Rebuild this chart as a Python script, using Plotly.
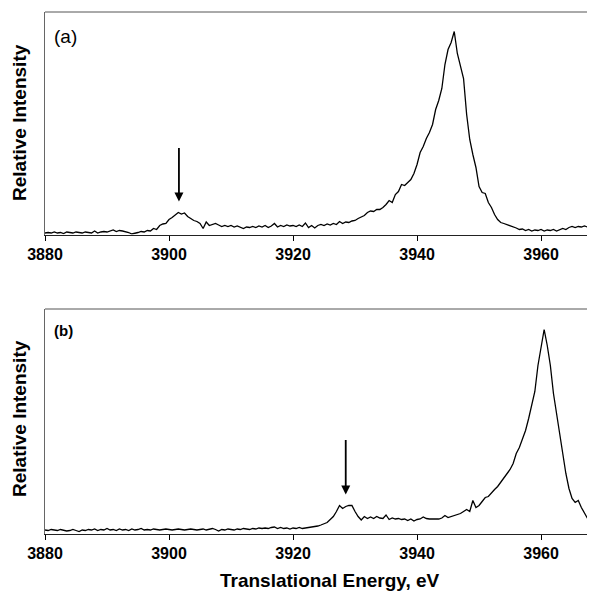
import numpy as np
import plotly.graph_objects as go

# Energy grid (eV): both spectra sampled every 0.5 eV starting at 3880
E_START = 3880.0
E_STEP = 0.5

# Panel (a) relative intensity (arbitrary units)
intensity_a = [
    1.5, 2, 1.5, 2.5, 1.5, 2, 1, 2.5, 2, 1.5,
    2.5, 2, 1.5, 2.5, 2, 1.5, 3.5, 1.5, 2.5, 3,
    2.5, 3.5, 4.5, 3, 4, 3.5, 3, 2, 0.5, 1,
    2, 3, 2.5, 4, 3.5, 6, 5, 9, 10.5, 11,
    15, 17, 20, 22, 20.5, 21.5, 18, 16, 14, 13,
    11, 6, 12.5, 9, 10, 11, 9.5, 8, 9, 8,
    9, 7.5, 8.5, 7, 6, 7.5, 7, 8, 7, 8.5,
    7.5, 9, 7, 8.5, 11, 7.5, 9, 8, 9.5, 8.5,
    9, 8, 9.5, 8, 11.5, 7, 9, 6.5, 9, 10,
    9, 10.5, 9.5, 11, 10, 13, 11, 12.5,
    12, 13.5, 14, 16, 17.5, 19, 22, 23.5, 23, 25,
    25, 27, 30, 34, 32, 40, 43, 50, 49, 52,
    55, 61, 70, 82, 88, 96, 102, 110, 125, 134,
    146, 170, 185, 192, 203, 181, 168, 156, 120, 95,
    80, 67, 48, 42, 41, 32, 27, 20, 15, 12,
    11, 10, 9, 7.5, 6.5, 5, 5.5, 4, 5, 3.5,
    4.5, 4, 5, 3.5, 4.5, 4, 5, 3.5, 5, 6,
    5, 7, 8, 7, 8, 7.5, 8.5, 7.5, 8, 7.5,
]

# Panel (b) relative intensity (arbitrary units)
intensity_b = [
    3.5, 3.0, 4.0, 3.5, 3.0, 4.0, 3.5, 2.5, 3.0, 4.0,
    3.0, 2.0, 3.5, 3.0, 4.0, 3.5, 4.5, 3.0, 4.0, 3.5,
    5.0, 3.5, 4.0, 3.0, 4.5, 3.5, 4.0, 3.0, 4.5, 3.5,
    4.0, 5.0, 3.5, 4.0, 3.5, 4.5, 4.0, 3.5, 4.0, 4.5,
    4.0, 3.5, 4.0, 4.5, 4.0, 3.5, 4.0, 4.5, 4.0, 3.5,
    4.0, 4.5, 3.5, 4.0, 5.0, 4.0, 2.5, 4.0, 3.5, 4.5,
    4.0, 3.5, 4.5, 4.0, 5.0, 4.5, 4.0, 5.0, 4.5, 5.5,
    5.0, 5.5, 5.0, 6.0, 6.5, 5.0, 6.0, 5.0, 5.5, 4.5,
    5.5, 5.0, 6.0, 5.0, 5.5,
    5.5, 6, 6.5, 7.5, 8.5, 9.5, 11, 14, 17, 22,
    28, 25, 27, 28, 28, 22, 17, 13.5, 17, 15,
    16.5, 15, 17, 15.5, 15, 18.5, 14, 15.5, 14.5, 15,
    14, 14.5, 13, 14.5, 12.5, 14, 14.5, 16.5, 15, 14.5,
    14.5, 15, 14.5, 15.5, 18, 16, 17, 17.5, 19, 20,
    22, 24, 22, 33, 26, 28, 32, 36, 37, 41,
    44, 47, 51, 55, 59, 64, 70, 80, 86, 95,
    103, 115, 128, 142, 168, 188, 204, 188, 168, 140,
    118, 100, 80, 60, 45, 35, 31, 33, 26, 20,
    15, 12, 10,
]

tick_values = [3880, 3900, 3920, 3940, 3960]
tick_labels = ["3880", "3900", "3920", "3940", "3960"]
x_range = [3880, 3968.7]

# arrow markers (energy, tail height, tip height)
arrow_a = (3901.6, 88, 33)
arrow_b = (3928.5, 95, 39)

energy_a = E_START + E_STEP * np.arange(len(intensity_a))
energy_b = E_START + E_STEP * np.arange(len(intensity_b))

# the page body has an 8px margin; lay out in window pixels and shift
OFF = 8
W, H = 595 - OFF, 591 - OFF
ML = 45 - OFF
def py(px):
    return 1 - (px - OFF) / H
def px_x(px):
    return (px - OFF - ML) / (W - ML)

dom_a = [py(234.5), py(12)]
dom_b = [py(533.5), py(309)]

FONT = "Liberation Sans, Arial, Helvetica, sans-serif"

fig = go.Figure()
fig.add_trace(go.Scatter(x=energy_a, y=intensity_a, mode="lines",
                         line=dict(color="black", width=1.3), xaxis="x", yaxis="y",
                         showlegend=False, hoverinfo="skip"))
fig.add_trace(go.Scatter(x=energy_b, y=intensity_b, mode="lines",
                         line=dict(color="black", width=1.3), xaxis="x2", yaxis="y2",
                         showlegend=False, hoverinfo="skip"))

xax = dict(range=x_range, tickmode="array", tickvals=tick_values, ticktext=tick_labels,
           ticks="outside", ticklen=5, tickwidth=1, tickcolor="black",
           showline=True, linecolor="#222", linewidth=1.3,
           showgrid=False, zeroline=False,
           tickfont=dict(family=FONT, size=16, color="black", weight="bold"))
yax = dict(showticklabels=False, ticks="", showline=True, linecolor="#666", linewidth=1,
           showgrid=False, zeroline=False)

fig.update_layout(
    width=W, height=H,
    margin=dict(l=ML, r=0, t=0, b=0),
    paper_bgcolor="white", plot_bgcolor="white",
    xaxis=dict(xax, domain=[0, 1], anchor="y"),
    yaxis=dict(yax, domain=dom_a, range=[0, 222.5], anchor="x"),
    xaxis2=dict(xax, domain=[0, 1], anchor="y2"),
    yaxis2=dict(yax, domain=dom_b, range=[0, 224.5], anchor="x2"),
)

# top frame lines
for d in (dom_a, dom_b):
    fig.add_shape(type="line", xref="paper", yref="paper", x0=0, x1=1, y0=d[1], y1=d[1],
                  line=dict(color="#555", width=1))

anns = []
for (ex, tail, tip), xr, yr in ((arrow_a, "x", "y"), (arrow_b, "x2", "y2")):
    anns.append(dict(x=ex, y=tip, ax=ex, ay=tail, xref=xr, yref=yr, axref=xr, ayref=yr,
                     showarrow=True, arrowhead=2, arrowsize=1, arrowwidth=1.8,
                     arrowcolor="black", text=""))

anns.append(dict(text="(a)", x=px_x(52), y=py(37), xref="paper", yref="paper",
                 xanchor="left", yanchor="middle", showarrow=False,
                 font=dict(family=FONT, size=19, color="black")))
anns.append(dict(text="(b)", x=px_x(52), y=py(330), xref="paper", yref="paper",
                 xanchor="left", yanchor="middle", showarrow=False,
                 font=dict(family=FONT, size=15, color="black", weight="bold")))
for cy in (123, 419):
    anns.append(dict(text="Relative Intensity", x=px_x(19), y=py(cy), xref="paper",
                     yref="paper", xanchor="center", yanchor="middle", textangle=-90,
                     showarrow=False,
                     font=dict(family=FONT, size=19, color="black", weight="bold")))
anns.append(dict(text="Translational Energy, eV", x=px_x(330), y=py(580), xref="paper",
                 yref="paper", xanchor="center", yanchor="middle", showarrow=False,
                 font=dict(family=FONT, size=19, color="black", weight="bold")))
fig.update_layout(annotations=anns)

fig.write_html("out.html")
